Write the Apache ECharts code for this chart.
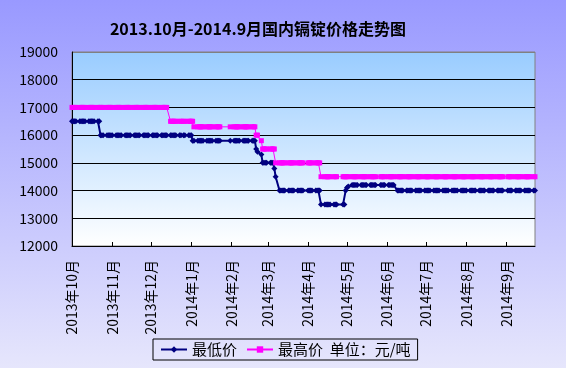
<!DOCTYPE html>
<html><head><meta charset="utf-8">
<script src="https://cdn.jsdelivr.net/npm/echarts@6/dist/echarts.min.js"></script>
<style>html,body{margin:0;padding:0;background:#fff}#c{width:566px;height:368px}</style>
</head><body><div id="c"></div>
<script>
const titleText = '2013.10月-2014.9月国内镉锭价格走势图';
const seriesNames = ['最低价', '最高价  单位：元/吨'];
const holidays = ['2014-01-01','2014-01-31','2014-02-03','2014-02-04','2014-02-05','2014-02-06',
  '2014-04-07','2014-05-01','2014-05-02','2014-06-02','2014-09-08'];
const tickDates = ['2013-10-08','2013-11-08','2013-12-08','2014-01-08','2014-02-08','2014-03-08',
  '2014-04-08','2014-05-08','2014-06-08','2014-07-08','2014-08-08','2014-09-08'];
const tickLabels = ['2013年10月','2013年11月','2013年12月','2014年1月','2014年2月','2014年3月',
  '2014年4月','2014年5月','2014年6月','2014年7月','2014年8月','2014年9月'];
const yMin = 12000, yMax = 19000, yStep = 1000;

// one value per trading day, month by month
const minPrice = [
  /* Oct */ 16500,16500,16500,16500,16500, 16500,16500,16500,16500,16500, 16500,16500,16500,16500,16500, 16500,16000,16000,
  /* Nov */ 16000,16000,16000,16000,16000, 16000,16000,16000,16000,16000, 16000,16000,16000,16000,16000, 16000,16000,16000,16000,16000, 16000,
  /* Dec */ 16000,16000,16000,16000,16000, 16000,16000,16000,16000,16000, 16000,16000,16000,16000,16000, 16000,16000,16000,16000,16000, 16000,16000,
  /* Jan */ 16000,16000,16000,16000,16000, 15800,15800,15800,15800,15800, 15800,15800,15800,15800,15800, 15800,15800,15800,15800,15800, 15800,
  /* Feb */ 15800,15800,15800,15800,15800, 15800,15800,15800,15800,15800, 15800,15800,15800,15800,15500, 15400,
  /* Mar */ 15300,15000,15000,15000,15000, 15000,15000,15000,14800,14500, 14000,14000,14000,14000,14000, 14000,14000,14000,14000,14000, 14000,
  /* Apr */ 14000,14000,14000,14000,14000, 14000,14000,14000,14000,14000, 14000,14000,13500,13500,13500, 13500,13500,13500,13500,13500, 13500,
  /* May */ 13500,13500,14000,14100,14150, 14200,14200,14200,14200,14200, 14200,14200,14200,14200,14200, 14200,14200,14200,14200,14200,
  /* Jun */ 14200,14200,14200,14200,14200, 14200,14200,14200,14200,14000, 14000,14000,14000,14000,14000, 14000,14000,14000,14000,14000,
  /* Jul */ 14000,14000,14000,14000,14000, 14000,14000,14000,14000,14000, 14000,14000,14000,14000,14000, 14000,14000,14000,14000,14000, 14000,14000,14000,
  /* Aug */ 14000,14000,14000,14000,14000, 14000,14000,14000,14000,14000, 14000,14000,14000,14000,14000, 14000,14000,14000,14000,14000, 14000,
  /* Sep */ 14000,14000,14000,14000,14000, 14000,14000,14000,14000,14000, 14000,14000,14000,14000,14000, 14000,14000,14000,14000,14000, 14000
];
const maxPrice = [
  /* Oct */ 17000,17000,17000,17000,17000, 17000,17000,17000,17000,17000, 17000,17000,17000,17000,17000, 17000,17000,17000,
  /* Nov */ 17000,17000,17000,17000,17000, 17000,17000,17000,17000,17000, 17000,17000,17000,17000,17000, 17000,17000,17000,17000,17000, 17000,
  /* Dec */ 17000,17000,17000,17000,17000, 17000,17000,17000,17000,17000, 17000,17000,17000,17000,17000, 16500,16500,16500,16500,16500, 16500,16500,
  /* Jan */ 16500,16500,16500,16500,16500, 16500,16300,16300,16300,16300, 16300,16300,16300,16300,16300, 16300,16300,16300,16300,16300, 16300,
  /* Feb */ 16300,16300,16300,16300,16300, 16300,16300,16300,16300,16300, 16300,16300,16300,16300,16000, 16000,
  /* Mar */ 15800,15500,15500,15500,15500, 15500,15500,15500,15500,15000, 15000,15000,15000,15000,15000, 15000,15000,15000,15000,15000, 15000,
  /* Apr */ 15000,15000,15000,15000,15000, 15000,15000,15000,15000,15000, 15000,15000,14500,14500,14500, 14500,14500,14500,14500,14500, 14500,
  /* May */ 14500,14500,14500,14500,14500, 14500,14500,14500,14500,14500, 14500,14500,14500,14500,14500, 14500,14500,14500,14500,14500,
  /* Jun */ 14500,14500,14500,14500,14500, 14500,14500,14500,14500,14500, 14500,14500,14500,14500,14500, 14500,14500,14500,14500,14500,
  /* Jul */ 14500,14500,14500,14500,14500, 14500,14500,14500,14500,14500, 14500,14500,14500,14500,14500, 14500,14500,14500,14500,14500, 14500,14500,14500,
  /* Aug */ 14500,14500,14500,14500,14500, 14500,14500,14500,14500,14500, 14500,14500,14500,14500,14500, 14500,14500,14500,14500,14500, 14500,
  /* Sep */ 14500,14500,14500,14500,14500, 14500,14500,14500,14500,14500, 14500,14500,14500,14500,14500, 14500,14500,14500,14500,14500, 14500
];

function ymd(d) {
  const p = n => (n < 10 ? '0' : '') + n;
  return d.getUTCFullYear() + '-' + p(d.getUTCMonth() + 1) + '-' + p(d.getUTCDate());
}
// calendar days of the date axis
const categories = [];
for (let t = Date.UTC(2013, 9, 8); t <= Date.UTC(2014, 8, 30); t += 86400000) categories.push(ymd(new Date(t)));
// trading days: weekdays that are not holidays
const tradingIdx = [];
categories.forEach((c, i) => {
  const wd = new Date(c + 'T00:00:00Z').getUTCDay();
  if (wd !== 0 && wd !== 6 && holidays.indexOf(c) < 0) tradingIdx.push(i);
});
const minData = tradingIdx.map((i, k) => [i, minPrice[k]]);
const maxData = tradingIdx.map((i, k) => [i, maxPrice[k]]);

const FONT = '"Noto Sans CJK SC", "Noto Sans", sans-serif';
const chart = echarts.init(document.getElementById('c'), null, { renderer: 'canvas' });
const isTick = (idx, v) => tickDates.indexOf(v) >= 0;
chart.setOption({
  animation: false,
  backgroundColor: { type: 'linear', x: 0, y: 0, x2: 0, y2: 1,
    colorStops: [{ offset: 0, color: '#9999ff' }, { offset: 1, color: '#e6e6fc' }] },
  graphic: [{
    type: 'text', x: 258, y: 29,
    style: { text: titleText, textAlign: 'center', textVerticalAlign: 'middle',
      font: 'bold 16px ' + FONT, fill: '#000' }
  }],
  grid: {
    left: 72, top: 52, width: 463, height: 194, show: true,
    backgroundColor: { type: 'linear', x: 0, y: 0, x2: 0, y2: 1,
      colorStops: [{ offset: 0, color: '#99ccff' }, { offset: 1, color: '#ffffff' }] },
    borderColor: '#808080', borderWidth: 1
  },
  legend: {
    left: 153, top: 339,
    padding: [3, 7, 3, 7], itemGap: 9, itemWidth: 26, itemHeight: 8,
    borderColor: '#000', borderWidth: 1, backgroundColor: 'transparent',
    textStyle: { fontFamily: FONT, fontSize: 15, color: '#000' },
    data: seriesNames
  },
  xAxis: {
    type: 'category', data: categories, boundaryGap: false,
    axisLine: { lineStyle: { color: '#000', width: 1 } },
    axisTick: { inside: true, length: 4, interval: isTick, lineStyle: { color: '#000' } },
    axisLabel: { interval: isTick, rotate: 90, margin: 14, color: '#000', fontFamily: FONT, fontSize: 14,
      formatter: v => { const k = tickDates.indexOf(v); return k >= 0 ? tickLabels[k] : ''; } },
    splitLine: { show: false }
  },
  yAxis: {
    type: 'value', min: yMin, max: yMax, interval: yStep,
    axisLine: { show: true, lineStyle: { color: '#000', width: 1 } },
    axisTick: { show: false },
    axisLabel: { margin: 14, color: '#000', fontFamily: FONT, fontSize: 14, formatter: v => String(v) },
    splitLine: { show: true, lineStyle: { width: 1,
      color: ['#000', '#000', '#000', '#000', '#000', '#000', '#000', '#808080'] } }
  },
  series: [
    { name: seriesNames[0], type: 'line', data: minData, showSymbol: true, showAllSymbol: true,
      symbol: 'diamond', symbolSize: 6, color: '#000080',
      itemStyle: { color: '#000080' }, lineStyle: { color: '#000080', width: 2 } },
    { name: seriesNames[1], type: 'line', data: maxData, showSymbol: true, showAllSymbol: true,
      symbol: 'rect', symbolSize: 5, color: '#ff00ff',
      itemStyle: { color: '#ff00ff' }, lineStyle: { color: '#ff00ff', width: 1 } }
  ]
});
</script>
</body></html>
